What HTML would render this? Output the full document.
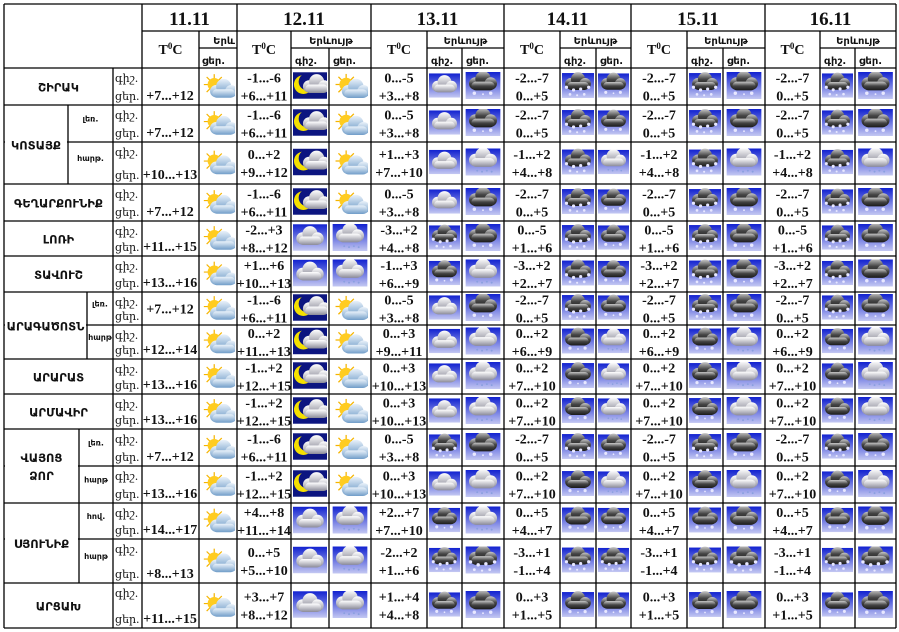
<!DOCTYPE html>
<html><head><meta charset="utf-8">
<style>
html,body{margin:0;padding:0;background:#fff;width:899px;height:632px;overflow:hidden}
svg{display:block}
text{font-family:"Liberation Serif","DejaVu Serif",serif;font-weight:bold;fill:#111}
.arm{font-family:"DejaVu Sans","Liberation Sans",sans-serif;font-weight:bold}
.sm{font-family:"DejaVu Serif","Liberation Serif",serif;font-weight:normal}
</style></head><body>
<svg id="s" width="899" height="632" xmlns="http://www.w3.org/2000/svg">
<defs>
<linearGradient id="bg" x1="0" y1="0" x2="0" y2="1"><stop offset="0" stop-color="#1222d0"/><stop offset="1" stop-color="#c4c8f2"/></linearGradient>
<linearGradient id="wc" x1="0" y1="0" x2="0" y2="1"><stop offset="0" stop-color="#ffffff"/><stop offset="1" stop-color="#8a8a98"/></linearGradient>
<linearGradient id="dc" x1="0" y1="0" x2="0" y2="1"><stop offset="0" stop-color="#c8c8c8"/><stop offset="0.5" stop-color="#444"/><stop offset="1" stop-color="#1a1a1a"/></linearGradient>
<linearGradient id="bc" x1="0" y1="0" x2="0" y2="1"><stop offset="0" stop-color="#eaf2fa"/><stop offset="1" stop-color="#6f9cc8"/></linearGradient>
<g id="cloud"><circle cx="11" cy="15" r="6.5"/><circle cx="19" cy="10" r="8"/><circle cx="27" cy="15" r="6.5"/><rect x="7" y="13" width="24" height="9" rx="4.5"/></g>
<symbol id="S" viewBox="0 0 36 28"><g stroke="#f5b400" stroke-width="1.3"><line x1="14" y1="2" x2="14" y2="24"/><line x1="3" y1="13" x2="25" y2="13"/><line x1="6" y1="5" x2="22" y2="21"/><line x1="22" y1="5" x2="6" y2="21"/></g><circle cx="14" cy="13" r="7" fill="#ffcc20"/><use href="#cloud" fill="url(#bc)" transform="translate(5,5)"/></symbol>
<symbol id="M" viewBox="0 0 36 28"><rect width="36" height="28" fill="#0c1580"/><circle cx="11" cy="13" r="10" fill="#f5e000"/><circle cx="15" cy="10" r="9" fill="#0c1580"/><use href="#cloud" fill="url(#wc)" transform="translate(6,0)"/></symbol>
<symbol id="C" viewBox="0 0 36 28"><rect width="36" height="28" fill="url(#bg)"/><use href="#cloud" fill="url(#wc)" transform="translate(-1,0)"/></symbol>
<symbol id="R" viewBox="0 0 36 28"><rect width="36" height="28" fill="url(#bg)"/><use href="#cloud" fill="url(#wc)" transform="translate(-1,-3)"/><g fill="#8aa0e0"><circle cx="12" cy="23" r="1"/><circle cx="17" cy="24" r="1"/><circle cx="22" cy="23" r="1"/><circle cx="27" cy="24" r="1"/></g></symbol>
<symbol id="D" viewBox="0 0 36 28"><rect width="36" height="28" fill="url(#bg)"/><use href="#cloud" fill="url(#dc)" transform="translate(-1,-3)"/><g fill="#e8e8ff"><circle cx="9" cy="22" r="1.8"/><circle cx="18" cy="23" r="1"/><circle cx="26" cy="22" r="1.8"/></g></symbol>
<symbol id="N" viewBox="0 0 36 28"><rect width="36" height="28" fill="url(#bg)"/><use href="#cloud" fill="url(#dc)" transform="translate(-1,-3)"/><g fill="#e8e8ff"><circle cx="5" cy="16" r="1.8"/><circle cx="13" cy="19" r="1.8"/><circle cx="21" cy="18" r="1.8"/><circle cx="30" cy="16" r="1.8"/><circle cx="9" cy="24" r="1.5"/><circle cx="17" cy="25" r="1.2"/><circle cx="25" cy="24" r="1.5"/></g></symbol>
</defs>
<g id="g"></g>
</svg>
<script>
var G=document.getElementById('g'),h='';
function L(x1,y1,x2,y2){h+='<line x1="'+x1+'" y1="'+y1+'" x2="'+x2+'" y2="'+y2+'" stroke="#000" stroke-width="1.3"/>';}
function T(x,y,s,sz,cls,anc){h+='<text x="'+x+'" y="'+y+'" font-size="'+sz+'" text-anchor="'+(anc||'middle')+'"'+(cls?' class="'+cls+'"':'')+'>'+s+'</text>';}
function I(id,x1,x2,y1,y2){var w=Math.min(x2-x1-4,36),hh=id=='M'?30:27;var x=(x1+x2)/2-w/2,y=(y1+y2)/2-hh/2-1;h+='<use href="#'+id+'" x="'+x+'" y="'+y+'" width="'+w+'" height="'+hh+'" preserveAspectRatio="none"/>';}
var days=[{d:'11.11',t:[142,199],ic:[[199,237]]},{d:'12.11',t:[237,291],ic:[[291,329],[329,371]]},{d:'13.11',t:[371,427],ic:[[427,462],[462,504]]},{d:'14.11',t:[504,560],ic:[[560,596],[596,631]]},{d:'15.11',t:[631,687],ic:[[687,723],[723,765]]},{d:'16.11',t:[765,820],ic:[[820,855],[855,896]]}];
var ys=[68,105,142,184,221,256,292,325,359,394,429,466,503,539,583,628];
var t11=['+7...+12','+7...+12','+10...+13','+7...+12','+11...+15','+13...+16','+7...+12','+12...+14','+13...+16','+13...+16','+7...+12','+13...+16','+14...+17','+8...+13','+11...+15'];
var D=[
[['-1...-6','+6...+11','M','S'],['0...-5','+3...+8','C','D'],['-2...-7','0...+5','N','D']],
[['-1...-6','+6...+11','M','S'],['0...-5','+3...+8','C','D'],['-2...-7','0...+5','N','D']],
[['0...+2','+9...+12','M','S'],['+1...+3','+7...+10','C','R'],['-1...+2','+4...+8','N','R']],
[['-1...-6','+6...+11','M','S'],['0...-5','+3...+8','C','D'],['-2...-7','0...+5','N','D']],
[['-2...+3','+8...+12','C','R'],['-3...+2','+4...+8','N','D'],['0...-5','+1...+6','N','D']],
[['+1...+6','+10...+13','C','R'],['-1...+3','+6...+9','D','R'],['-3...+2','+2...+7','N','D']],
[['-1...-6','+6...+11','M','S'],['0...-5','+3...+8','C','D'],['-2...-7','0...+5','N','D']],
[['0...+2','+11...+13','M','S'],['0...+3','+9...+11','C','R'],['0...+2','+6...+9','D','R']],
[['-1...+2','+12...+15','M','S'],['0...+3','+10...+13','C','R'],['0...+2','+7...+10','D','R']],
[['-1...+2','+12...+15','M','S'],['0...+3','+10...+13','C','R'],['0...+2','+7...+10','D','R']],
[['-1...-6','+6...+11','M','S'],['0...-5','+3...+8','N','D'],['-2...-7','0...+5','N','D']],
[['-1...+2','+12...+15','M','S'],['0...+3','+10...+13','C','R'],['0...+2','+7...+10','D','R']],
[['+4...+8','+11...+14','C','R'],['+2...+7','+7...+10','D','R'],['0...+5','+4...+7','D','D']],
[['0...+5','+5...+10','C','R'],['-2...+2','+1...+6','N','N'],['-3...+1','-1...+4','N','N']],
[['+3...+7','+8...+12','C','R'],['+1...+4','+4...+8','D','D'],['0...+3','+1...+5','D','D']]];
L(4,4,896,4);L(142,31,896,31);
days.forEach(function(d,i){
 L(d.t[0],4,d.t[0],628);
 T((d.t[0]+d.ic[d.ic.length-1][1])/2,25,d.d,19);
 T((d.t[0]+d.t[1])/2,54,'T<tspan font-size="9" dy="-5">0</tspan><tspan dy="5">C</tspan>',14);
 L(d.t[1],31,d.t[1],628);
 var ix1=d.ic[0][0],ix2=d.ic[d.ic.length-1][1];
 L(ix1,48,ix2,48);
 if(i==0){T(ix2-2,44,'Երև',10,'arm','end');T(ix1+3,64,'ցեր.',10,'arm','start');}
 else{T((ix1+ix2)/2,44,'Երևույթ',10,'arm');T(d.ic[0][0]+4,64,'գիշ.',10,'arm','start');T(d.ic[1][0]+4,64,'ցեր.',10,'arm','start');L(d.ic[1][0],48,d.ic[1][0],628);}
});
L(896,4,896,628);L(4,4,4,628);L(113,68,113,628);
ys.forEach(function(y,i){L(4,y,896,y);});
var groups=[[0,0,'ՇԻՐԱԿ'],[1,2,'ԿՈՏԱՅՔ',68,['լեռ.','հարթ.']],[3,3,'ԳԵՂԱՐՔՈՒՆԻՔ'],[4,4,'ԼՈՌԻ'],[5,5,'ՏԱՎՈՒՇ'],[6,7,'ԱՐԱԳԱԾՈՏՆ',87,['լեռ.','հարթ']],[8,8,'ԱՐԱՐԱՏ'],[9,9,'ԱՐՄԱՎԻՐ'],[10,11,'ՎԱՅՈՑ|ՁՈՐ',79,['լեռ.','հարթ']],[12,13,'ՍՅՈՒՆԻՔ',79,['հով.','հարթ']],[14,14,'ԱՐՑԱԽ']];
groups.forEach(function(g){
 var y1=ys[g[0]],y2=ys[g[1]+1],xr=g[3]||113;
 if(g[3]){h+='<rect x="5" y="'+(y1+1)+'" width="'+(g[3]-6)+'" height="'+(y2-y1-2)+'" fill="#fff"/>';L(g[3],y1,g[3],y2);
  for(var k=0;k<2;k++){var a=ys[g[0]+k],b=ys[g[0]+k+1];T((g[3]+113)/2,(a+b)/2-2,g[4][k],8,'arm');}}
 var lines=g[2].split('|'),cx=(4+xr)/2,cy=(y1+y2)/2;
 lines.forEach(function(s,j){T(cx,cy+5+(j-(lines.length-1)/2)*18,s,11.5,'arm');});
});
for(var r=0;r<15;r++){
 var y1=ys[r],y2=ys[r+1];
 T(115,y1+14,'գիշ.',11,'sm','start');T(115,y2-5,'ցեր.',11,'sm','start');
 var mid=(y1+y2)/2;
 T(170,r==6?mid+5:y2-5,t11[r],14);
 I('S',199,237,y1,y2);
 for(var di=1;di<6;di++){
  var dd=D[r][di==1?0:(di==2?1:2)],d=days[di],cx=(d.t[0]+d.t[1])/2;
  T(cx,mid-4,dd[0],14);T(cx,mid+14,dd[1],14);
  I(dd[2],d.ic[0][0],d.ic[0][1],y1,y2);I(dd[3],d.ic[1][0],d.ic[1][1],y1,y2);
 }
}
G.innerHTML=h;
</script>
</body></html>
